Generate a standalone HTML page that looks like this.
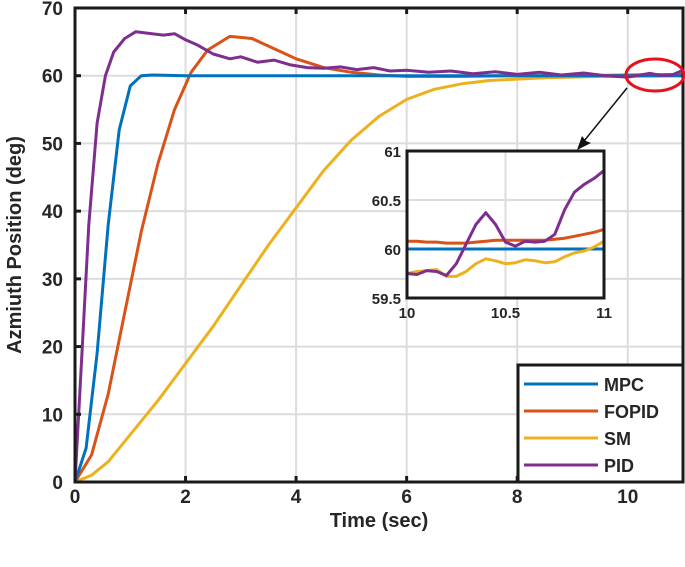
<!DOCTYPE html>
<html><head><meta charset="utf-8"><style>
body{margin:0;background:#fff;}
svg text{font-family:"Liberation Sans",Arial,sans-serif;font-weight:bold;fill:#262626;}
</style></head><body>
<svg id="c" width="685" height="562" viewBox="0 0 685 562" xmlns="http://www.w3.org/2000/svg">
<defs><clipPath id="ic"><rect x="407" y="151" width="197" height="147"/></clipPath></defs>
</svg>
<script>
const xTicks=[0,2,4,6,8,10];
const yTicks=[0,10,20,30,40,50,60,70];
const tMPC=[0,0.2,0.4,0.6,0.8,1.0,1.2,1.4,2,4,6,8,10,11];
const vMPC=[0,5,19,38,52,58.5,60,60.1,60,60,60,60,60,60];
const tFO=[0,0.3,0.6,0.9,1.2,1.5,1.8,2.1,2.4,2.8,3.2,3.6,4,4.5,5,5.5,6,7,8,9,10,11];
const vFO=[0,4,13,25,37,47,55,60.5,63.8,65.8,65.5,64,62.5,61.2,60.5,60.1,59.9,59.9,60,60,60.1,60.2];
const tSM=[0,0.3,0.6,1,1.5,2,2.5,3,3.5,4,4.5,5,5.5,6,6.5,7,7.5,8,8.5,9,9.5,10,11];
const vSM=[0,1,3,7,12,17.5,23,29,35,40.5,46,50.5,54,56.5,58,58.8,59.3,59.5,59.7,59.8,59.9,59.9,60];
const tPID=[0,0.1,0.25,0.4,0.55,0.7,0.9,1.1,1.3,1.6,1.8,2,2.2,2.5,2.8,3,3.3,3.6,3.9,4.2,4.5,4.8,5.1,5.4,5.7,6,6.4,6.8,7.2,7.6,8,8.4,8.8,9.2,9.6,10,10.4,10.6,10.8,11];
const vPID=[0,15,38,53,60,63.5,65.5,66.5,66.3,66,66.2,65.3,64.6,63.2,62.5,62.8,62,62.3,61.6,61.2,61.1,61.3,60.9,61.2,60.7,60.8,60.5,60.7,60.3,60.6,60.2,60.5,60.1,60.4,60,59.8,60.35,60.05,60.1,60.8];
const iT=[10,10.05,10.1,10.15,10.2,10.25,10.3,10.35,10.4,10.45,10.5,10.55,10.6,10.65,10.7,10.75,10.8,10.85,10.9,10.95,11];
const iMPC=[60,60,60,60,60,60,60,60,60,60,60,60,60,60,60,60,60,60,60,60,60];
const iFO=[60.08,60.08,60.07,60.07,60.06,60.06,60.06,60.07,60.08,60.09,60.09,60.09,60.09,60.09,60.09,60.1,60.11,60.13,60.15,60.17,60.2];
const iSM=[59.75,59.77,59.78,59.79,59.72,59.72,59.77,59.85,59.9,59.88,59.85,59.86,59.89,59.88,59.86,59.87,59.92,59.96,59.98,60.02,60.08];
const iPID=[59.75,59.74,59.78,59.77,59.73,59.85,60.05,60.25,60.37,60.25,60.07,60.03,60.08,60.07,60.08,60.15,60.4,60.58,60.66,60.72,60.8];
const colors={mpc:"#0072BD",fo:"#D95319",sm:"#EDB120",pid:"#7E2F8E"};
const NS="http://www.w3.org/2000/svg";
const svg=document.getElementById('c');
function el(tag,attrs,parent){const e=document.createElementNS(NS,tag);for(const k in attrs)e.setAttribute(k,attrs[k]);(parent||svg).appendChild(e);return e;}
const X0=75,X1=683,Y0=482,Y1=8;
const sx=t=>X0+t/11*(X1-X0), sy=v=>Y0-v/70*(Y0-Y1);
xTicks.forEach(t=>{const l=el('line',{x1:sx(t),x2:sx(t),y1:Y1,y2:Y0,stroke:'#dcdcdc','stroke-width':2});

});
yTicks.forEach(v=>{const l=el('line',{x1:X0,x2:X1,y1:sy(v),y2:sy(v),stroke:'#dcdcdc','stroke-width':2});

});
function path(ts,vs,fx,fy,col,w,name,clip){const d=ts.map((t,i)=>(i?'L':'M')+fx(t).toFixed(1)+','+fy(vs[i]).toFixed(1)).join('');
const a={d:d,fill:'none',stroke:col,'stroke-width':w,'stroke-linejoin':'round'};if(clip)a['clip-path']='url(#ic)';
const p=el('path',a);

return p;}
path(tSM,vSM,sx,sy,colors.sm,3,'sm-line');
path(tFO,vFO,sx,sy,colors.fo,3,'fopid-line');
path(tMPC,vMPC,sx,sy,colors.mpc,3,'mpc-line');
path(tPID,vPID,sx,sy,colors.pid,3,'pid-line');
const box=el('rect',{x:X0,y:Y1,width:X1-X0,height:Y0-Y1,fill:'none',stroke:'#1a1a1a','stroke-width':3});


xTicks.forEach(t=>{el('line',{x1:sx(t),x2:sx(t),y1:Y0,y2:Y0-6,stroke:'#1a1a1a','stroke-width':3});el('line',{x1:sx(t),x2:sx(t),y1:Y1,y2:Y1+6,stroke:'#1a1a1a','stroke-width':3});
const tx=el('text',{x:sx(t),y:Y0+21,'text-anchor':'middle','font-size':19});tx.textContent=t;

});
yTicks.forEach(v=>{el('line',{x1:X0,x2:X0+6,y1:sy(v),y2:sy(v),stroke:'#1a1a1a','stroke-width':3});
const tx=el('text',{x:X0-12,y:sy(v)+7,'text-anchor':'end','font-size':19});tx.textContent=v;

});
const xt=el('text',{x:379,y:527,'text-anchor':'middle','font-size':20});xt.textContent='Time (sec)';


const yt=el('text',{x:0,y:0,'text-anchor':'middle','font-size':20,transform:'translate(21,245) rotate(-90)'});yt.textContent='Azmiuth Position (deg)';


const ell=el('ellipse',{cx:655,cy:75,rx:29,ry:16,fill:'none',stroke:'#e8101a','stroke-width':3});


const ar=el('line',{x1:627,y1:88,x2:580,y2:146,stroke:'#111','stroke-width':1.5});


el('path',{d:'M577,150 L582,136 L586,141 L591,143 Z',fill:'#111'});
const IX0=407,IX1=604,IY0=298,IY1=151;
const ix=t=>IX0+(t-10)*(IX1-IX0), iy=v=>IY0-(v-59.5)/1.5*(IY0-IY1);
const ib=el('rect',{x:IX0,y:IY1,width:IX1-IX0,height:IY0-IY1,fill:'#fff'});


[10.5].forEach(t=>el('line',{x1:ix(t),x2:ix(t),y1:IY1,y2:IY0,stroke:'#dcdcdc','stroke-width':2}));
[60,60.5].forEach(v=>el('line',{x1:IX0,x2:IX1,y1:iy(v),y2:iy(v),stroke:'#dcdcdc','stroke-width':2}));
path(iT,iFO,ix,iy,colors.fo,3,'inset-fopid-line',1);
path(iT,iMPC,ix,iy,colors.mpc,3,'inset-mpc-line',1);
path(iT,iSM,ix,iy,colors.sm,3,'inset-sm-line',1);
path(iT,iPID,ix,iy,colors.pid,3,'inset-pid-line',1);
const ibx=el('rect',{x:IX0,y:IY1,width:IX1-IX0,height:IY0-IY1,fill:'none',stroke:'#1a1a1a','stroke-width':3});


[10,10.5,11].forEach(t=>{const tx=el('text',{x:ix(t),y:IY0+20,'text-anchor':'middle','font-size':15});tx.textContent=t;

});
[59.5,60,60.5,61].forEach(v=>{const tx=el('text',{x:IX0-6,y:iy(v)+6,'text-anchor':'end','font-size':15});tx.textContent=v;

});
const lg=el('rect',{x:518,y:365,width:165,height:117,fill:'#fff',stroke:'#1a1a1a','stroke-width':3});


const names=['MPC','FOPID','SM','PID'],cols=[colors.mpc,colors.fo,colors.sm,colors.pid];
names.forEach((n,i)=>{const y=384+i*27;
const ln=el('line',{x1:524,x2:598,y1:y,y2:y,stroke:cols[i],'stroke-width':3});


const tx=el('text',{x:604,y:y+7,'font-size':18});tx.textContent=n;

});
</script>
</body></html>
